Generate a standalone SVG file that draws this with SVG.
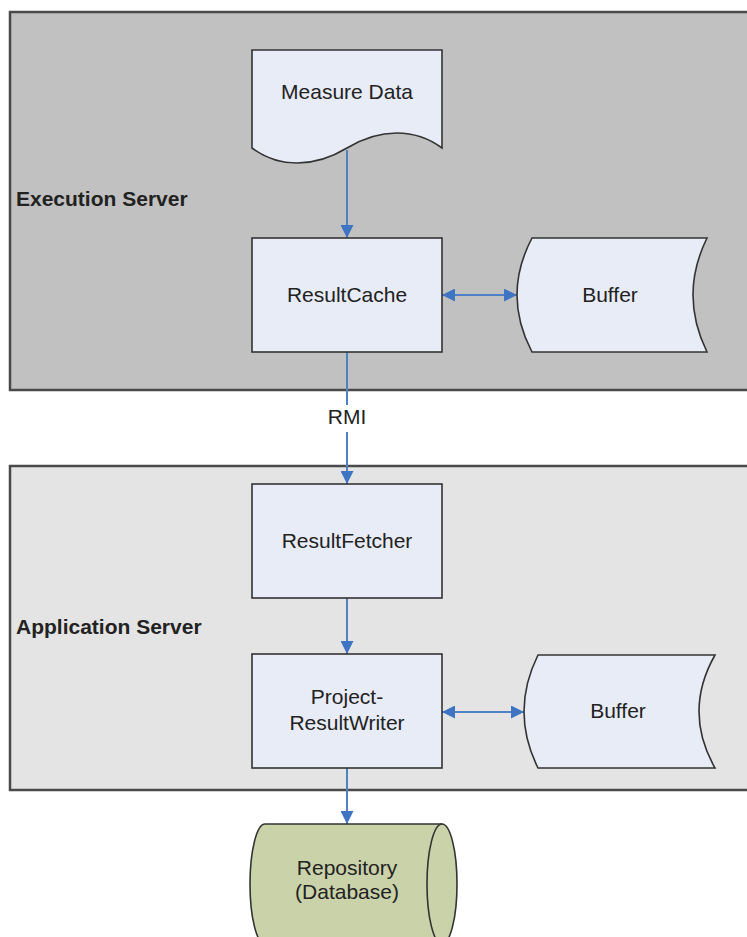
<svg xmlns="http://www.w3.org/2000/svg" width="747" height="937" viewBox="0 0 747 937">
<defs>
<style>
.grp{stroke:#4a4a4a;stroke-width:2.5}
.node{fill:#e8ecf6;stroke:#333;stroke-width:1.6}
.lbl{font-family:"Liberation Sans",Arial,sans-serif;font-size:21px;fill:#222;text-anchor:middle}
.glbl{font-family:"Liberation Sans",Arial,sans-serif;font-size:21px;font-weight:bold;fill:#222}
.conn{stroke:#4f81c4;stroke-width:2;fill:none}
</style>
<marker id="ah" viewBox="0 0 10 10" refX="10" refY="5" markerWidth="13" markerHeight="13" markerUnits="userSpaceOnUse" orient="auto-start-reverse">
<path d="M0,0 L10,5 L0,10 Z" fill="#3f74c2"/>
</marker>
</defs>
<rect width="747" height="937" fill="#ffffff"/>
<g id="execution-server">
<rect class="grp" x="10" y="12" width="760" height="378" fill="#c1c1c1"/>
<text class="glbl" x="16" y="206">Execution Server</text>
</g>
<g id="application-server">
<rect class="grp" x="10" y="466" width="760" height="324" fill="#e4e4e4"/>
<text class="glbl" x="16" y="634">Application Server</text>
</g>
<g id="connectors">
<line class="conn" x1="347" y1="150" x2="347" y2="238" marker-end="url(#ah)"/>
<line class="conn" x1="442" y1="295" x2="517" y2="295" marker-start="url(#ah)" marker-end="url(#ah)"/>
<line class="conn" x1="347" y1="352" x2="347" y2="405"/>
<line class="conn" x1="347" y1="432" x2="347" y2="484" marker-end="url(#ah)"/>
<text class="lbl" x="347" y="424">RMI</text>
<line class="conn" x1="347" y1="598" x2="347" y2="654" marker-end="url(#ah)"/>
<line class="conn" x1="442" y1="712" x2="524" y2="712" marker-start="url(#ah)" marker-end="url(#ah)"/>
<line class="conn" x1="347" y1="768" x2="347" y2="824" marker-end="url(#ah)"/>
</g>
<g id="measure-data">
<path class="node" d="M252,50 H442 V148 C415,128 380,128 347,148 C314,168 279,168 252,148 Z"/>
<text class="lbl" x="347" y="99">Measure Data</text>
</g>
<g id="result-cache">
<rect class="node" x="252" y="238" width="190" height="114"/>
<text class="lbl" x="347" y="302">ResultCache</text>
</g>
<g id="buffer-1">
<path class="node" d="M532,238 H707 Q679,295 707,352 H532 Q502,295 532,238 Z"/>
<text class="lbl" x="610" y="302">Buffer</text>
</g>
<g id="result-fetcher">
<rect class="node" x="252" y="484" width="190" height="114"/>
<text class="lbl" x="347" y="548">ResultFetcher</text>
</g>
<g id="project-result-writer">
<rect class="node" x="252" y="654" width="190" height="114"/>
<text class="lbl" x="347" y="704">Project-</text>
<text class="lbl" x="347" y="730">ResultWriter</text>
</g>
<g id="buffer-2">
<path class="node" d="M538,655 H715 Q683,711.5 715,768 H538 Q510,711.5 538,655 Z"/>
<text class="lbl" x="618" y="718">Buffer</text>
</g>
<g id="repository">
<path d="M265,824 H442 A15,60 0 0 1 442,944 H265 A15,60 0 0 1 265,824 Z" fill="#cad2aa" stroke="#333" stroke-width="1.6"/>
<path d="M442,824 A15,60 0 0 0 442,944" fill="none" stroke="#333" stroke-width="1.6"/>
<text class="lbl" x="347" y="875">Repository</text>
<text class="lbl" x="347" y="899">(Database)</text>
</g>
</svg>
